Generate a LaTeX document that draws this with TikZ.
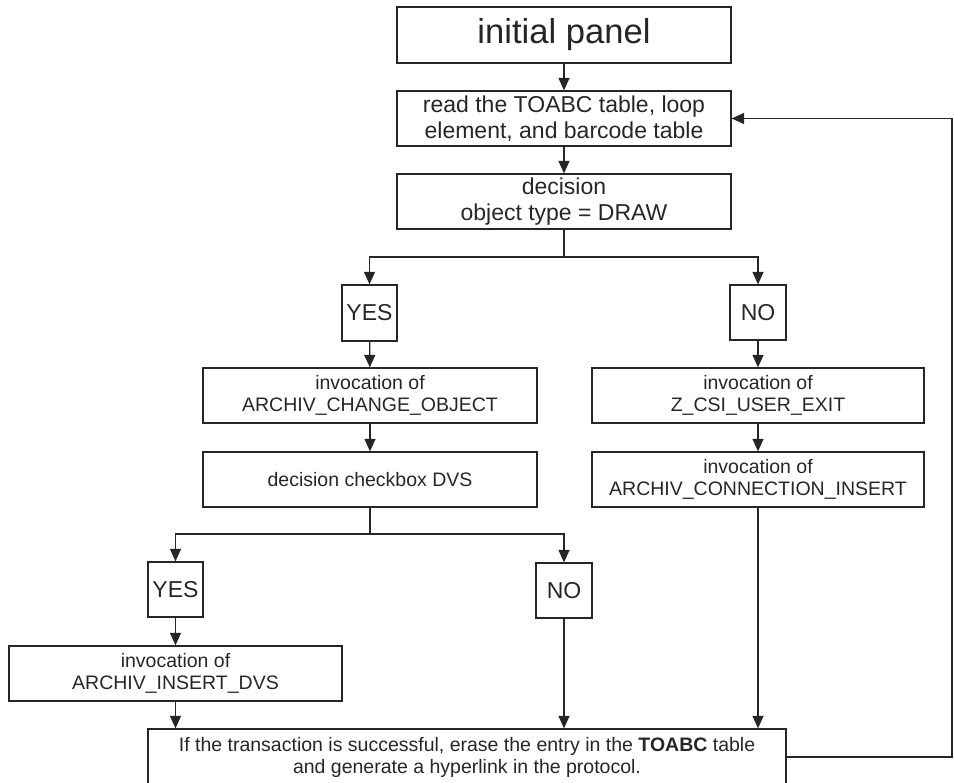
\documentclass[tikz,border=0pt]{standalone}
\usepackage{fontspec}
\setmainfont{Liberation Sans}
\usetikzlibrary{arrows.meta}

\begin{document}
\begin{tikzpicture}[x=1pt,y=-1pt,line width=1.25pt,color=black!85,
	>={Triangle[length=12.5pt,width=11pt]},
	box/.style={draw,rectangle,inner sep=0pt,align=center,
		minimum width=334pt,minimum height=55pt,
		font=\fontsize{19.5}{22}\selectfont},
	midbox/.style={box,font=\fontsize{23}{26.5}\selectfont},
	answer/.style={midbox,minimum width=55pt}]

	\useasboundingbox (0,0) rectangle (954,783);

	% main column
	\node[midbox,minimum height=56pt,font=\fontsize{34.6}{40}\selectfont]
		at (564,35) (init) {initial panel};
	\node[midbox] at (564,118.5) (read) {read the TOABC table, loop\\
		element, and barcode table};
	\node[midbox] at (564,201.5) (dec) {decision\\ object type = DRAW};
	\coordinate (br1) at (564,257);

	% YES branch
	\node[answer,minimum height=56pt] at (369.5,313) (yes1) {YES};
	\node[box] at (370,395.5) (chg) {invocation of\\ ARCHIV\_CHANGE\_OBJECT};
	\node[box] at (370,479.5) (chk) {decision checkbox DVS};
	\coordinate (br2) at (370,534);

	\node[answer] at (175.5,589.5) (yes2) {YES};
	\node[box,minimum width=333pt] at (175.5,673.5) (dvs) {invocation of\\
		ARCHIV\_INSERT\_DVS};
	\node[answer,minimum width=56pt] at (564,590.5) (no2) {NO};

	% NO branch
	\node[answer,minimum width=56pt] at (758,312.5) (no1) {NO};
	\node[box,minimum width=332pt] at (758,395.5) (csi) {invocation of\\
		Z\_CSI\_USER\_EXIT};
	\node[box,minimum width=332pt] at (758,479.5) (con) {invocation of\\
		ARCHIV\_CONNECTION\_INSERT};

	% end
	\node[box,minimum width=638pt,minimum height=56pt] at (467,757) (fin)
		{If the transaction is successful, erase the entry in the
		\textbf{TOABC} table\\ and generate a hyperlink in the protocol.};
	\coordinate (rt) at (952,0);

\draw[->] (init) -- (read);
\draw[->] (read) -- (dec);
\draw (dec) -- (br1);
\draw[->] (br1) -| (yes1);
\draw[->] (br1) -| (no1);

\draw[->] (yes1) -- (chg);
\draw[->] (chg) -- (chk);
\draw (chk) -- (br2);
\draw[->] (br2) -| (yes2);
\draw[->] (br2) -| (no2);
\draw[->] (yes2) -- (dvs);
\draw[->] (dvs) -- (dvs.south |- fin.north);
\draw[->] (no2) -- (no2.south |- fin.north);

\draw[->] (no1) -- (csi);
\draw[->] (csi) -- (con);
\draw[->] (con) -- (con.south |- fin.north);

	% back to the table
\draw[->] (fin.east) -- (fin.east -| rt) -- (read.east -| rt) -- (read.east);

\end{tikzpicture}
\end{document}
